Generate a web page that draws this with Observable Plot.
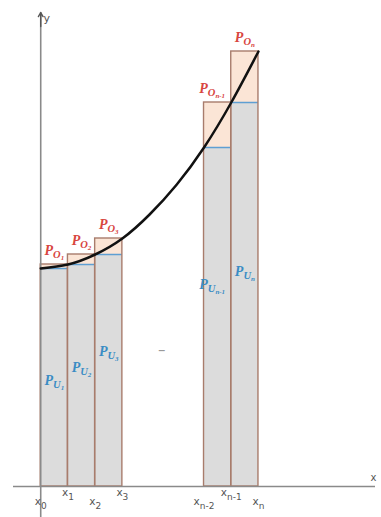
<!DOCTYPE html>
<html>
<head>
<meta charset="utf-8">
<script src="https://cdn.jsdelivr.net/npm/d3@7"></script>
<script src="https://cdn.jsdelivr.net/npm/@observablehq/plot@0.6"></script>
<style>
  html, body { margin: 0; padding: 0; background: #fff; }
  #chart svg { display: block; }
</style>
</head>
<body>
<div id="chart"></div>
<script>
// Partition nodes x0, x1, x2, x3, x_{n-2}, x_{n-1}, x_n (in axis units)
const nodeX = [0, 1, 2, 3, 6, 7, 8];
const nodeSub = ["0", "1", "2", "3", "n-2", "n-1", "n"];
// Function value f(x_k) at each node
const nodeF = [21.8, 22.2, 23.2, 24.8, 33.9, 38.4, 43.5];
// Smooth curve samples
const curveX = [0, 1, 2, 3, 4, 5, 6, 7, 8];
const curveY = [21.8, 22.2, 23.2, 24.8, 27.2, 30.2, 33.9, 38.4, 43.5];
// Drawn rectangles: indices of left node for each bar
const barLeft = [0, 1, 2, 4, 5];
const barSub = ["1", "2", "3", "n-1", "n"];
// Heights of the lower-sum labels P_U
const uLabelY = [10.5, 11.8, 13.4, 20.1, 21.4];
// Ellipsis position between x3 and x_{n-2}
const gapMark = [{x: 4.45, y: 13.6, t: "–"}];

const bars = barLeft.map((i, k) => ({
  x1: nodeX[i], x2: nodeX[i + 1],
  lo: nodeF[i], hi: nodeF[i + 1],
  oLab: "P|O|" + barSub[k], uLab: "P|U|" + barSub[k],
  uy: uLabelY[k], shift: barSub[k] === "n-1" ? -0.2 : 0
}));
const curve = curveX.map((x, i) => ({x, y: curveY[i]}));
const ticks = nodeX.map((x, i) => ({x, lab: "x|" + nodeSub[i], high: i % 2 === 1}));

const axisColor = "#8a8a8a";
const red = "#d8463f";
const blue = "#3a8cc4";

const chart = Plot.plot({
  width: 381,
  height: 517,
  marginLeft: 13,
  marginRight: 6,
  marginTop: 12,
  marginBottom: 31,
  x: {domain: [-1, 12.3], axis: null},
  y: {domain: [0, 47.4], axis: null},
  style: {background: "#fff"},
  marks: [
    Plot.rect(bars, {x1: "x1", x2: "x2", y1: 0, y2: "lo", fill: "#dcdcdc"}),
    Plot.rect(bars, {x1: "x1", x2: "x2", y1: "lo", y2: "hi", fill: "#fbe5d6"}),
    Plot.ruleY(bars, {y: "lo", x1: "x1", x2: "x2", stroke: "#5e9fd3", strokeWidth: 1.5}),
    Plot.rect(bars, {x1: "x1", x2: "x2", y1: 0, y2: "hi", fill: "none", stroke: "#a87c6c", strokeWidth: 1.4}),
    Plot.ruleY([0], {x1: -1, x2: 12.3, stroke: axisColor, strokeWidth: 1.6}),
    Plot.ruleX([0], {y1: -3.1, y2: 47.4, stroke: axisColor, strokeWidth: 1.6}),
    Plot.arrow([{a: 0}], {x1: 0, x2: 0, y1: 46, y2: 47.4, stroke: "#555", strokeWidth: 1.4, headLength: 7}),
    Plot.line(curve, {x: "x", y: "y", curve: "natural", stroke: "#111", strokeWidth: 2.5}),
    Plot.text(bars, {x: d => (d.x1 + d.x2) / 2 + d.shift, y: "hi", dy: -13, text: "oLab", fill: red}),
    Plot.text(bars, {x: d => (d.x1 + d.x2) / 2 + d.shift, y: "uy", text: "uLab", fill: blue}),
    Plot.text(ticks.filter(d => d.high), {x: "x", y: 0, dy: 6, text: "lab", fill: "#555"}),
    Plot.text(ticks.filter(d => !d.high), {x: "x", y: 0, dy: 15, text: "lab", fill: "#555"}),
    Plot.text(gapMark, {x: "x", y: "y", text: "t", fill: "#999", fontSize: 14}),
    Plot.text(["y"], {x: 0, y: 47.4, dx: 6, dy: 6, text: d => d, fill: "#555", fontSize: 11, fontFamily: "DejaVu Sans"}),
    Plot.text(["x"], {x: 12.3, y: 0, dx: -2, dy: -9, text: d => d, fill: "#555", fontSize: 10, fontFamily: "DejaVu Sans"})
  ]
});

// Turn "P|O|1" style strings into sub/subscript tspans (still real text)
d3.select(chart).selectAll("text").each(function() {
  const s = this.textContent;
  if (!s.includes("|")) return;
  const parts = s.split("|");
  const t = d3.select(this);
  t.text("");
  if (parts[0] === "P") {
    t.attr("font-family", "Liberation Serif, serif")
     .attr("font-style", "italic").attr("font-weight", "bold");
    t.append("tspan").attr("font-size", 14).text(parts[0]);
    t.append("tspan").attr("font-size", 10.5).attr("dy", 3).text(parts[1]);
    t.append("tspan").attr("font-size", 7).attr("dy", 2).text(parts[2]);
  } else {
    t.attr("font-family", "DejaVu Sans, sans-serif");
    t.append("tspan").attr("font-size", 10.5).text(parts[0]);
    t.append("tspan").attr("font-size", 9).attr("dy", 4).text(parts[1]);
  }
});

document.getElementById("chart").appendChild(chart);
</script>
</body>
</html>
